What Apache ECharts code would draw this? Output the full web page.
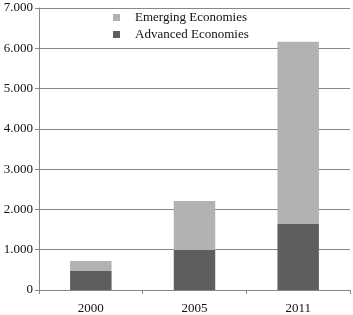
<!DOCTYPE html>
<html>
<head>
<meta charset="utf-8">
<script src="https://cdn.jsdelivr.net/npm/echarts@6/dist/echarts.min.js"></script>
<style>
  html, body { margin: 0; padding: 0; background: #fff; }
  #chart { width: 353px; height: 315px; }
</style>
</head>
<body>
<div id="chart"></div>
<script>
// 数据
const years = ['2000', '2005', '2011'];
const advanced = [470, 990, 1640];
const emerging = [250, 1220, 4520];

const chart = echarts.init(document.getElementById('chart'));

const font = 'Liberation Serif, Times New Roman, serif';

const option = {
    animation: false,
    textStyle: { fontFamily: font },
    legend: {
        orient: 'vertical',
        left: 113,
        top: 11,
        padding: 0,
        itemWidth: 7,
        itemHeight: 7,
        itemGap: 4,
        icon: 'rect',
        data: ['Emerging Economies', 'Advanced Economies'],
        textStyle: { fontFamily: font, fontSize: 13, lineHeight: 13, color: '#111', padding: [0, 0, 0, 10] }
    },
    grid: {
        left: 39,
        right: 3,
        top: 8,
        bottom: 25
    },
    xAxis: {
        type: 'category',
        data: years,
        axisLine: { lineStyle: { color: '#888', width: 1 } },
        axisTick: { show: true, length: 4, lineStyle: { color: '#888' } },
        axisLabel: { fontFamily: font, fontSize: 13, color: '#111', margin: 12 }
    },
    yAxis: {
        type: 'value',
        min: 0,
        max: 7000,
        interval: 1000,
        axisLine: { show: true, lineStyle: { color: '#888', width: 1 } },
        axisTick: { show: true, length: 4, lineStyle: { color: '#888' } },
        splitLine: { lineStyle: { color: '#888', width: 1 } },
        axisLabel: {
            fontFamily: font,
            fontSize: 13,
            color: '#111',
            margin: 6,
            formatter: function (v) {
                return v === 0 ? '0' : (v / 1000).toFixed(3);
            }
        }
    },
    series: [
        {
            name: 'Advanced Economies',
            type: 'bar',
            stack: 'total',
            barWidth: '40%',
            data: advanced,
            itemStyle: { color: '#5e5e5e' }
        },
        {
            name: 'Emerging Economies',
            type: 'bar',
            stack: 'total',
            barWidth: '40%',
            data: emerging,
            itemStyle: { color: '#b2b2b2' }
        }
    ]
};

chart.setOption(option);
</script>
</body>
</html>
